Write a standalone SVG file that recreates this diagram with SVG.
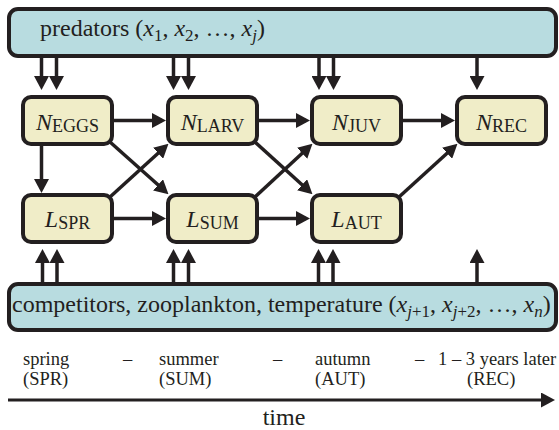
<svg xmlns="http://www.w3.org/2000/svg" width="559" height="430" viewBox="0 0 559 430">
<style>
.big{fill:#B8DCE0;stroke:#231F20;stroke-width:4}
.node{fill:#F0EDC8;stroke:#231F20;stroke-width:4}
.c{stroke:#231F20;stroke-width:3.5;fill:none}
</style>
<defs>
<marker id="ah" markerUnits="userSpaceOnUse" markerWidth="14" markerHeight="15" refX="10" refY="7.5" orient="auto">
<path d="M0,0 L14,7.5 L0,15 z" fill="#231F20"/>
</marker>
</defs>
<g id="predators">
<rect class="big" x="9" y="9" width="547" height="47" rx="9"/>
<text font-family="Times New Roman, Liberation Serif, serif" font-size="24" fill="#231F20" x="40" y="36">predators (<tspan font-style="italic">x</tspan><tspan font-size="17" dy="5">1</tspan><tspan dy="-5">, </tspan><tspan font-style="italic">x</tspan><tspan font-size="17" dy="5">2</tspan><tspan dy="-5">, &#8230;, </tspan><tspan font-style="italic">x</tspan><tspan font-style="italic" font-size="17" dy="5">j</tspan><tspan dy="-5">)</tspan></text>
</g>
<g id="competitors">
<rect class="big" x="9" y="284" width="547" height="46" rx="9"/>
<text font-family="Times New Roman, Liberation Serif, serif" font-size="24" fill="#231F20" x="12" y="312">competitors, zooplankton, temperature (<tspan font-style="italic">x</tspan><tspan font-size="17" dy="5"><tspan font-style="italic">j</tspan>+1</tspan><tspan dy="-5">, </tspan><tspan font-style="italic">x</tspan><tspan font-size="17" dy="5"><tspan font-style="italic">j</tspan>+2</tspan><tspan dy="-5">, &#8230;, </tspan><tspan font-style="italic">x</tspan><tspan font-style="italic" font-size="17" dy="5">n</tspan><tspan dy="-5">)</tspan></text>
</g>
<g id="N_EGGS">
<rect class="node" x="23" y="97" width="89" height="47" rx="8"/>
<text font-family="Times New Roman, Liberation Serif, serif" font-size="24" fill="#231F20" text-anchor="middle" x="67.5" y="130"><tspan font-style="italic">N</tspan><tspan font-size="18" dy="2">EGGS</tspan></text>
</g>
<g id="N_LARV">
<rect class="node" x="168" y="97" width="89" height="47" rx="8"/>
<text font-family="Times New Roman, Liberation Serif, serif" font-size="24" fill="#231F20" text-anchor="middle" x="212.5" y="130"><tspan font-style="italic">N</tspan><tspan font-size="18" dy="2">LARV</tspan></text>
</g>
<g id="N_JUV">
<rect class="node" x="312" y="97" width="89" height="47" rx="8"/>
<text font-family="Times New Roman, Liberation Serif, serif" font-size="24" fill="#231F20" text-anchor="middle" x="356.5" y="130"><tspan font-style="italic">N</tspan><tspan font-size="18" dy="2">JUV</tspan></text>
</g>
<g id="N_REC">
<rect class="node" x="457" y="97" width="89" height="47" rx="8"/>
<text font-family="Times New Roman, Liberation Serif, serif" font-size="24" fill="#231F20" text-anchor="middle" x="501.5" y="130"><tspan font-style="italic">N</tspan><tspan font-size="18" dy="2">REC</tspan></text>
</g>
<g id="L_SPR">
<rect class="node" x="23" y="195" width="89" height="47" rx="8"/>
<text font-family="Times New Roman, Liberation Serif, serif" font-size="24" fill="#231F20" text-anchor="middle" x="67.5" y="227"><tspan font-style="italic">L</tspan><tspan font-size="18" dy="2">SPR</tspan></text>
</g>
<g id="L_SUM">
<rect class="node" x="168" y="195" width="89" height="47" rx="8"/>
<text font-family="Times New Roman, Liberation Serif, serif" font-size="24" fill="#231F20" text-anchor="middle" x="212.5" y="227"><tspan font-style="italic">L</tspan><tspan font-size="18" dy="2">SUM</tspan></text>
</g>
<g id="L_AUT">
<rect class="node" x="312" y="195" width="89" height="47" rx="8"/>
<text font-family="Times New Roman, Liberation Serif, serif" font-size="24" fill="#231F20" text-anchor="middle" x="356.5" y="227"><tspan font-style="italic">L</tspan><tspan font-size="18" dy="2">AUT</tspan></text>
</g>
<g id="connectors" class="c" marker-end="url(#ah)">
<line x1="41.5" y1="58" x2="41.5" y2="86"/>
<line x1="56.5" y1="58" x2="56.5" y2="86"/>
<line x1="173.5" y1="58" x2="173.5" y2="86"/>
<line x1="188.5" y1="58" x2="188.5" y2="86"/>
<line x1="319" y1="58" x2="319" y2="86"/>
<line x1="333.5" y1="58" x2="333.5" y2="86"/>
<line x1="477" y1="58" x2="477" y2="86"/>
<line x1="42.5" y1="282" x2="42.5" y2="253"/>
<line x1="57" y1="282" x2="57" y2="253"/>
<line x1="173.5" y1="282" x2="173.5" y2="253"/>
<line x1="188.5" y1="282" x2="188.5" y2="253"/>
<line x1="318.5" y1="282" x2="318.5" y2="253"/>
<line x1="333" y1="282" x2="333" y2="253"/>
<line x1="477" y1="282" x2="477" y2="253"/>
<line x1="41.5" y1="146" x2="41.5" y2="189"/>
<line x1="114" y1="120.5" x2="162" y2="120.5"/>
<line x1="259" y1="120.5" x2="306" y2="120.5"/>
<line x1="403" y1="120.5" x2="451" y2="120.5"/>
<line x1="114" y1="218.5" x2="162" y2="218.5"/>
<line x1="259" y1="218.5" x2="306" y2="218.5"/>
<line x1="110" y1="142" x2="165.5" y2="191.5"/>
<line x1="110" y1="197" x2="165.5" y2="146.5"/>
<line x1="255" y1="142" x2="309.5" y2="191.5"/>
<line x1="255" y1="197" x2="309.5" y2="146.5"/>
<line x1="399" y1="197" x2="454.5" y2="146.5"/>
<line x1="8" y1="400" x2="551" y2="400" stroke-width="3"/>
</g>
<g id="timeline" fill="#231F20" font-family="Times New Roman, Liberation Serif, serif" font-size="18.5">
<text x="23" y="365">spring</text>
<text x="23" y="385">(SPR)</text>
<text x="123" y="365">&#8211;</text>
<text x="159" y="365">summer</text>
<text x="159" y="385">(SUM)</text>
<text x="273" y="365">&#8211;</text>
<text x="315" y="365">autumn</text>
<text x="315" y="385">(AUT)</text>
<text x="415" y="365">&#8211;</text>
<text x="438" y="365">1 &#8211; 3 years later</text>
<text x="467" y="385">(REC)</text>
<text x="284" y="425" font-size="24" text-anchor="middle">time</text>
</g>
</svg>
